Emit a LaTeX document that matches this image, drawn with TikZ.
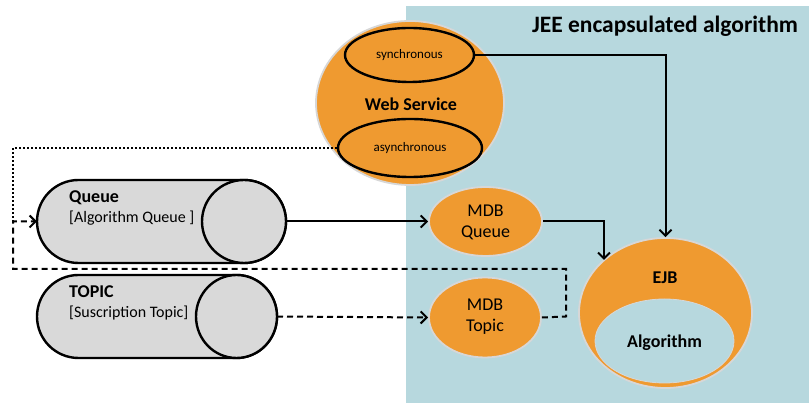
\documentclass[tikz,border=0pt]{standalone}
\usepackage{fontspec}
\setmainfont{Carlito}
\usetikzlibrary{shapes.geometric,arrows.meta}
\definecolor{bgblue}{RGB}{183,216,222}
\definecolor{orng}{RGB}{239,154,48}
\definecolor{rim}{RGB}{215,215,215}
\definecolor{cylgray}{RGB}{217,217,217}
\begin{document}
\begin{tikzpicture}[x=1pt,y=1pt,
  orb/.style={ellipse, fill=orng, draw=rim, line width=1.8pt, inner sep=0pt},
  subell/.style={ellipse, draw=black, line width=2.4pt, inner sep=0pt, font=\fontsize{13}{15}\selectfont},
  conn/.style={line width=2pt, -{Straight Barb[length=6pt,width=12pt]}},
  cyl/.style={fill=cylgray, draw=black, line width=2.4pt},
  bigbold/.style={font=\bfseries\fontsize{18}{21}\selectfont},
  mdbtxt/.style={align=center, font=\fontsize{18}{21}\selectfont},
  cyltitle/.style={anchor=west, inner sep=0pt, font=\bfseries\fontsize{18}{21}\selectfont},
  cylsub/.style={anchor=west, inner sep=0pt, font=\fontsize{16}{19}\selectfont}]
\useasboundingbox (0,0) rectangle (809,403);
\fill[bgblue] (406,0) rectangle (809,397);
\node[font=\bfseries\fontsize{23.5}{27}\selectfont] (title) at (665,377) {JEE encapsulated algorithm};

% Web service
\node[orb, minimum width=188pt, minimum height=164pt] (ws) at (410,300) {};
\node[subell, minimum width=129pt, minimum height=54pt] (sync) at (409.5,348) {synchronous};
\node[subell, minimum width=144pt, minimum height=58pt] (async) at (410,255) {asynchronous};
\node[bigbold] (wslbl) at (411,299) {Web Service};

% Queue cylinder
\filldraw[cyl] (244,223) -- (78.5,223) arc[start angle=90,end angle=270,radius=41.5]
  -- (244,140) arc[start angle=-90,end angle=90,x radius=42,y radius=41.5] -- cycle;
\draw[cyl] (244,181.5) ellipse [x radius=42, y radius=41.5];
\node[cyltitle] (qtitle) at (69,205) {Queue};
\node[cylsub] (qsub) at (69,185) {[Algorithm Queue ]};
\coordinate (qL) at (37,181.5);
\coordinate (qR) at (286,181.5);

% Topic cylinder
\filldraw[cyl] (236.5,128) -- (78.5,128) arc[start angle=90,end angle=270,radius=41.5]
  -- (236.5,45) arc[start angle=-90,end angle=90,x radius=40.5,y radius=41.5] -- cycle;
\draw[cyl] (236.5,86.5) ellipse [x radius=40.5, y radius=41.5];
\node[cyltitle] (ttitle) at (69,111) {TOPIC};
\node[cylsub] (tsub) at (69,90) {[Suscription Topic]};
\coordinate (tR) at (277,86.5);

% MDBs
\node[orb, minimum width=113pt, minimum height=69pt] (mdbq) at (485.5,181.5) {};
\node[mdbtxt] (mdbqt) at (485.5,181) {MDB\\Queue};
\node[orb, minimum width=112pt, minimum height=80pt] (mdbt) at (485,85.5) {};
\node[mdbtxt] (mdbtt) at (485,86) {MDB\\Topic};

% EJB
\node[orb, minimum width=173pt, minimum height=150pt] (ejb) at (665.5,90) {};
\node[ellipse, fill=bgblue, draw=rim, line width=0.8pt, minimum width=139pt, minimum height=84pt, inner sep=0pt] (alg) at (664.5,62) {};
\node[bigbold] (ejbl) at (665,125) {EJB};
\node[bigbold] (algl) at (664.5,60) {Algorithm};

% connectors
\coordinate (c1) at (665.5,348);
\draw[conn] (sync.east) -- (c1) -- (ejb.north);
\draw[conn] (qR) -- (mdbq.west);
\coordinate (c2) at (604,181.5);
\coordinate (c3) at (604,143);
\draw[conn] (mdbq.east) -- (c2) -- (c3);
\draw[conn, dash pattern=on 6pt off 4pt] (tR) -- (mdbt.west);
\coordinate (d1) at (566,86.5);
\coordinate (d2) at (566,134);
\coordinate (d3) at (13,134);
\coordinate (d4) at (13,181.5);
\draw[conn, dash pattern=on 6pt off 4pt] (mdbt.east) -- (d1) -- (d2) -- (d3) -- (d4) -- (qL);
\coordinate (e1) at (13,255);
\draw[line width=2pt, dash pattern=on 2pt off 2pt] (async.west) -- (e1) -- (d4);
\end{tikzpicture}
\end{document}
